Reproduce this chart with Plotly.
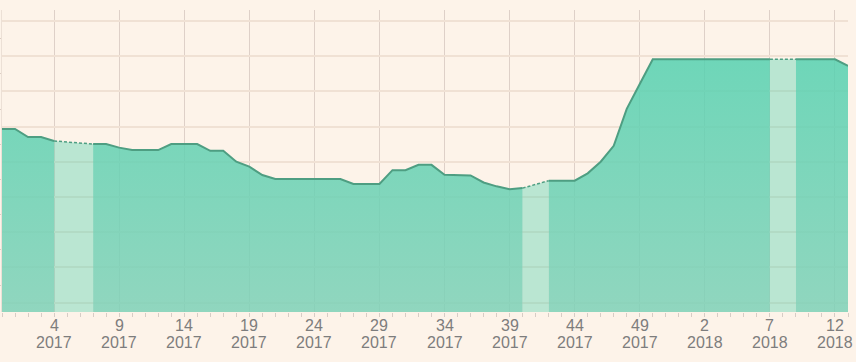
import plotly.graph_objects as go

# ---- data (week number, ISO year, value; None = missing week) ----
weeks = [52] + list(range(1, 53)) + list(range(1, 14))
years = [2016] + [2017] * 52 + [2018] * 13
values = [
    52.0, 52.0, 49.7, 49.7, 48.6, None, None, 47.7, 47.7, 46.7,
    46.0, 46.0, 46.0, 47.7, 47.7, 47.7, 45.8, 45.8, 42.7, 41.3,
    38.9, 37.8, 37.8, 37.8, 37.8, 37.8, 37.8, 36.4, 36.4, 36.4,
    40.3, 40.3, 41.8, 41.8, 39.0, 39.0, 38.8, 36.8, 35.7, 34.9,
    35.2, None, 37.3, 37.3, 37.3, 39.4, 42.7, 47.2, 57.7, 64.8,
    71.8, 71.8, 71.8, 71.8, 71.8, 71.8, 71.8, 71.8, 71.8, 71.8,
    None, 71.8, 71.8, 71.8, 71.8, 69.9,
]

idx = list(range(len(values)))
tick_idx = [i for i in idx if i >= 4 and (i - 4) % 5 == 0]
tick_week = [str(weeks[i]) for i in tick_idx]
tick_year = [str(years[i]) for i in tick_idx]

BG = "rgb(253,243,233)"
LINE = "rgb(78,158,130)"
FONT = "Liberation Sans, Arial, sans-serif"
LABEL = "rgb(125,125,125)"

fig = go.Figure()

# split into contiguous segments and gaps
segments, gaps = [], []
cur = []
for i, v in enumerate(values):
    if v is None:
        if cur:
            segments.append(cur)
            cur = []
    else:
        if not cur and segments:
            gaps.append((segments[-1][-1], i))
        cur.append(i)
if cur:
    segments.append(cur)

for a, b in gaps:
    fig.add_trace(go.Scatter(
        x=[a, b], y=[values[a], values[b]], mode="lines",
        line=dict(color=LINE, width=1.5, dash="3px,2px"),
        fill="tozeroy", fillcolor="rgba(85,209,176,0.40)",
        hoverinfo="skip", showlegend=False,
    ))

for seg in segments:
    fig.add_trace(go.Scatter(
        x=seg, y=[values[i] for i in seg], mode="lines",
        line=dict(color=LINE, width=2),
        fill="tozeroy",
        fillgradient=dict(type="vertical", start=0, stop=72,
                          colorscale=[[0, "rgba(125,209,183,0.85)"],
                                      [1, "rgba(85,209,176,0.85)"]]),
        showlegend=False,
    ))

for x, wk, yr in zip(tick_idx, tick_week, tick_year):
    fig.add_annotation(x=x, y=0, xref="x", yref="paper", text=wk,
                       showarrow=False, yanchor="middle", yshift=-13,
                       font=dict(size=16, color=LABEL, family=FONT))
    fig.add_annotation(x=x, y=0, xref="x", yref="paper", text=yr,
                       showarrow=False, yanchor="middle", yshift=-30,
                       font=dict(size=16, color=LABEL, family=FONT))

fig.update_layout(
    width=856, height=362,
    margin=dict(l=2, r=8, t=10, b=50),
    paper_bgcolor=BG, plot_bgcolor=BG,
    font=dict(family=FONT, size=15, color=LABEL),
    xaxis=dict(
        range=[0, len(values) - 1],
        tickmode="array", tickvals=tick_idx, ticktext=tick_week,
        showticklabels=False,
        showgrid=True, gridcolor="rgb(222,208,200)", gridwidth=1,
        ticks="outside", ticklen=4, tickcolor="rgb(215,205,198)",
        minor=dict(ticks="outside", dtick=1, tick0=0, ticklen=4,
                   tickcolor="rgb(215,205,198)", showgrid=False),
        zeroline=False, showline=False,
    ),
    yaxis=dict(
        range=[0, 85.8],
        tick0=2.667, dtick=10, showticklabels=False,
        showgrid=True, gridcolor="rgb(240,225,212)", gridwidth=1.5,
        ticks="", zeroline=False,
        showline=True, linecolor="rgb(236,224,214)", linewidth=1,
        minor=dict(ticks="outside", tick0=7.667, dtick=10, ticklen=3,
                   tickcolor="rgb(220,205,195)", showgrid=False),
    ),
)

fig.write_html("out.html")
